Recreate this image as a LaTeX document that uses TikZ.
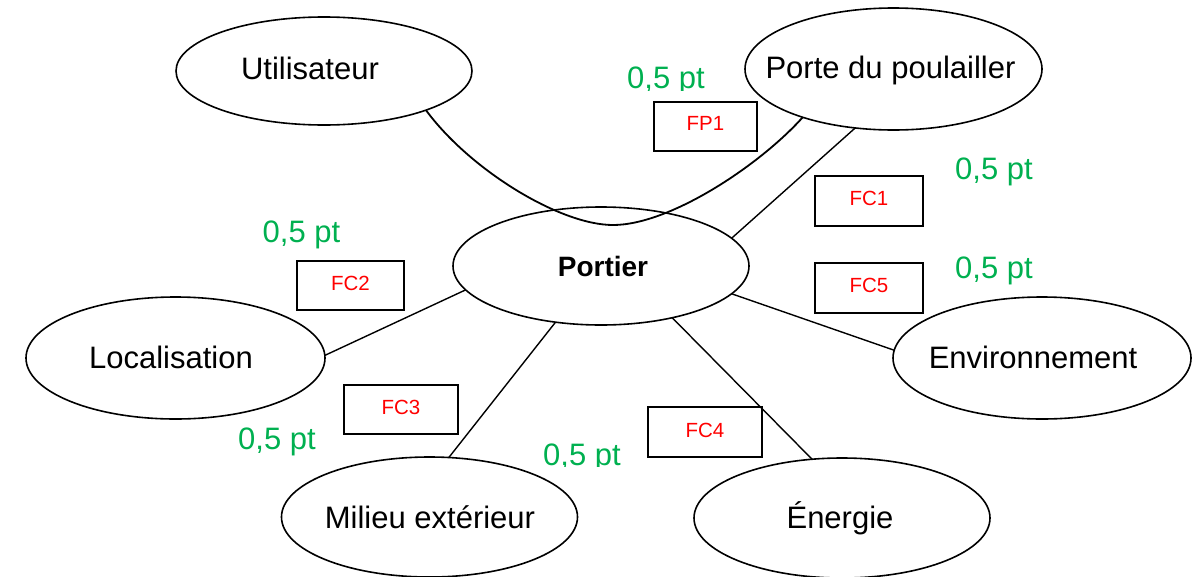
\documentclass[tikz,border=0pt]{standalone}
\usepackage{fontspec}
\setmainfont{Liberation Sans}
\usetikzlibrary{shapes.geometric}
\definecolor{ptgreen}{RGB}{0,176,80}
\definecolor{fcred}{RGB}{255,0,0}
\begin{document}
\begin{tikzpicture}[x=1pt,y=-1pt,
  ell/.style={ellipse,draw,line width=1.6pt,minimum width=296pt,minimum height=120pt,inner sep=0pt,outer sep=0pt},
  lbl/.style={anchor=base,font=\fontsize{31}{37}\selectfont,inner sep=0pt},
  fcbox/.style={draw,line width=1.8pt,inner sep=0pt,outer sep=0pt},
  fct/.style={anchor=base,text=fcred,font=\fontsize{20.5}{24}\selectfont,inner sep=0pt},
  pts/.style={anchor=base,text=ptgreen,font=\fontsize{31}{37}\selectfont,inner sep=0pt},
  conn/.style={line width=1.4pt}]
\useasboundingbox (0,0) rectangle (1192,576);

% ellipses
\node[ell,minimum height=108pt] (u) at (324,71) {};
\node[ell,minimum height=122pt,minimum width=297pt] (pp) at (893.5,69) {};
\node[ell,minimum height=118pt] (p) at (601,266) {};
\node[ell,minimum height=122pt,minimum width=299pt] (loc) at (175.5,358) {};
\node[ell,minimum height=122pt,minimum width=298pt] (env) at (1042,358) {};
\node[ell] (mil) at (429.5,517) {};
\node[ell] (en) at (842,518) {};

% ellipse texts
\node[lbl] (ut) at (310,79) {Utilisateur};
\node[lbl] (ppt) at (890.5,78) {Porte du poulailler};
\node[lbl,font=\fontsize{28}{34}\selectfont\bfseries] (pt) at (603,276) {Portier};
\node[lbl] (loct) at (171,368) {Localisation};
\node[lbl] (envt) at (1033,368) {Environnement};
\node[lbl] (milt) at (430,528) {Milieu extérieur};
\node[lbl] (ent) at (840,528) {Énergie};

% connectors
\draw[conn] (pp.237) -- (p.12);
\draw[conn] (p.190) -- (loc.1.5);
\draw[conn] (p.348) -- (env.177);
\draw[conn] (p.231) -- (mil.72);
\draw[conn] (p.324) -- (en.117);
\coordinate (bot) at (613,225);
\draw[line width=1.8pt] (u.339) .. controls (470,170) and (560,225) .. (bot)
  .. controls (670,225) and (760,165) .. (pp.208);

% function boxes
\node[fcbox,minimum width=103pt,minimum height=49pt] (fp1) at (705.5,126.5) {};
\node[fct] (fp1t) at (705.5,130) {FP1};
\node[fcbox,minimum width=108pt,minimum height=50pt] (fc1) at (869,201) {};
\node[fct] (fc1t) at (869,205) {FC1};
\node[fcbox,minimum width=108pt,minimum height=50pt] (fc5) at (869,288) {};
\node[fct] (fc5t) at (869,292) {FC5};
\node[fcbox,minimum width=107pt,minimum height=49pt] (fc2) at (350.5,285.5) {};
\node[fct] (fc2t) at (350.5,290) {FC2};
\node[fcbox,minimum width=114pt,minimum height=49pt] (fc3) at (401,409.5) {};
\node[fct] (fc3t) at (401,414) {FC3};
\node[fcbox,minimum width=114pt,minimum height=50pt] (fc4) at (705,432) {};
\node[fct] (fc4t) at (705,437) {FC4};

% points
\begin{scope}
  \clip (600,40) rectangle (740,90);
  \node[pts] (g1) at (666,88) {0,5 pt};
\end{scope}
\node[pts] (g2) at (994,179) {0,5 pt};
\node[pts] (g3) at (994,278) {0,5 pt};
\node[pts] (g4) at (301.5,242) {0,5 pt};
\node[pts] (g5) at (277,449) {0,5 pt};
\begin{scope}
  \clip (520,420) rectangle (640,466);
  \node[pts] (g6) at (582,465) {0,5 pt};
\end{scope}
\end{tikzpicture}
\end{document}
